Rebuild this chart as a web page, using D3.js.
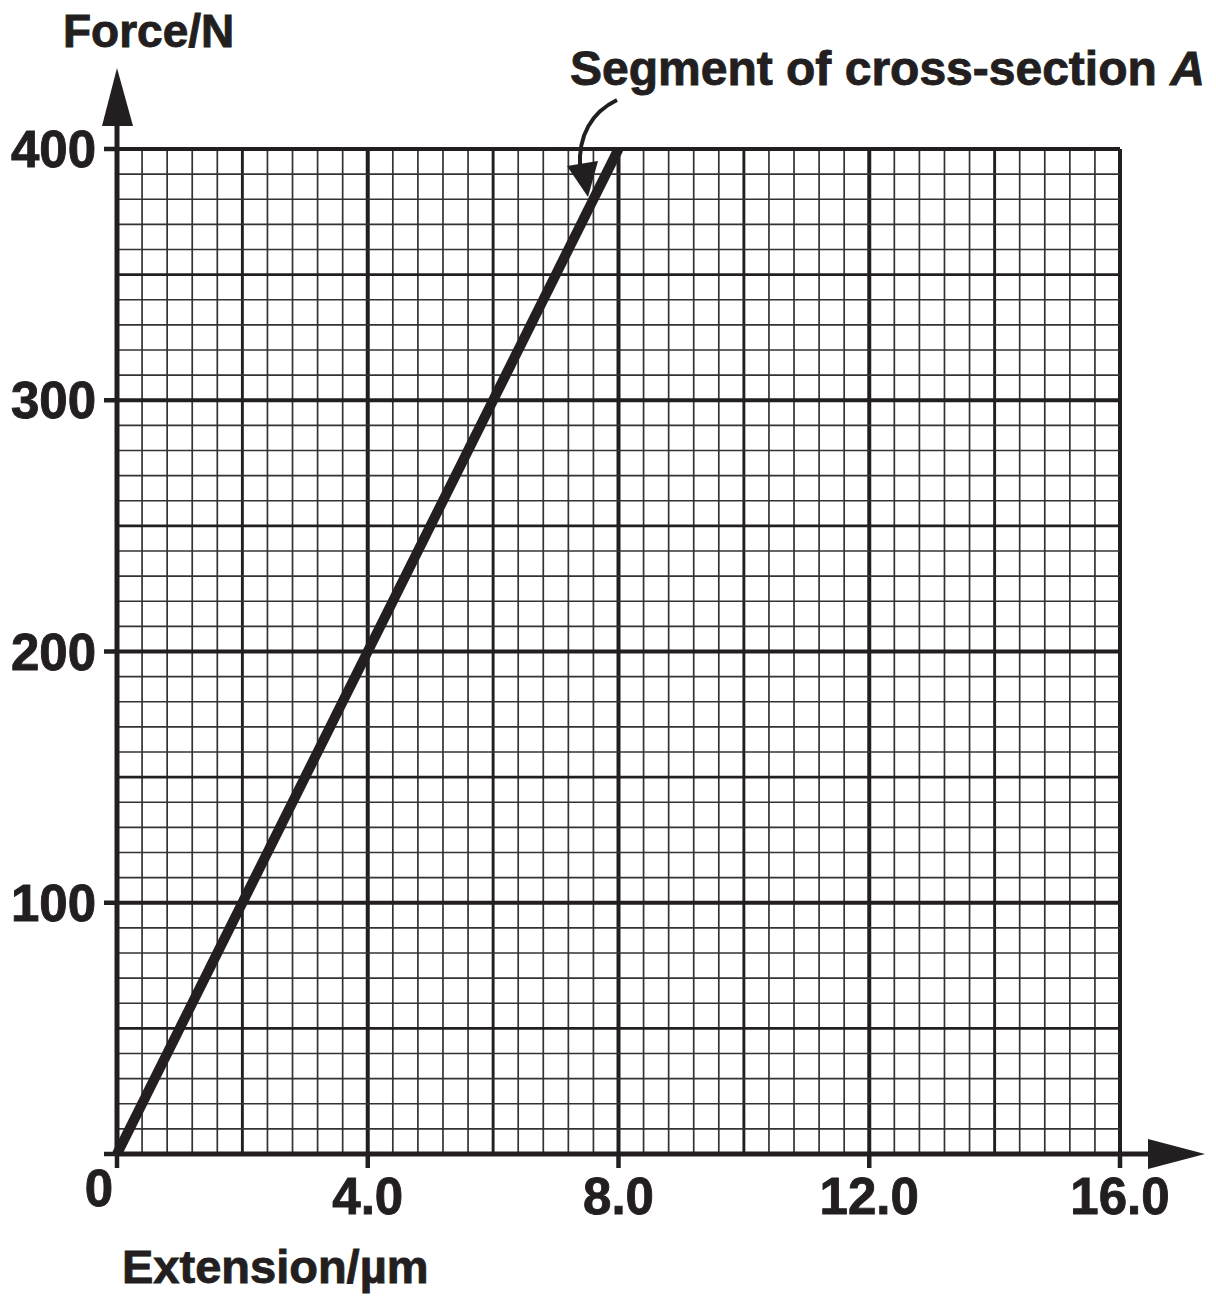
<!DOCTYPE html>
<html>
<head>
<meta charset="utf-8">
<script src="https://cdn.jsdelivr.net/npm/d3@7"></script>
<style>
    body { margin: 0; background: #fff; }
    text { font-family: "Liberation Sans", Arial, Helvetica, sans-serif; font-weight: bold; fill: #231f20; stroke: #231f20; stroke-width: 0.9px; }
</style>
</head>
<body>
<div id="chart"></div>
<script>
// values
const extension = [0, 8.0];      // µm
const force = [0, 400];          // N
const xTicks = [0, 4, 8, 12, 16];
const xTickLabels = ["0", "4.0", "8.0", "12.0", "16.0"];
const yTicks = [0, 100, 200, 300, 400];
const yTickLabels = ["", "100", "200", "300", "400"];

const w = 1216, h = 1303;
const ink = "#231f20";

const x = d3.scaleLinear().domain([0, 16]).range([117, 1120]);
const y = d3.scaleLinear().domain([0, 400]).range([1154, 149]);

const svg = d3.select("#chart").append("svg")
    .attr("width", w)
    .attr("height", h);

// graph paper: minor 0.4 / 10 N, medium 2.0 / 50 N, major 4.0 / 100 N
let grid = svg.append("g").attr("class", "grid");

function lineWidthX(v) {
    let r = Math.round(v * 10);
    if (r % 40 === 0) return 4;
    if (r % 20 === 0) return 2.9;
    return 1.7;
}

function lineWidthY(v) {
    if (v % 100 === 0) return 4;
    if (v % 50 === 0) return 2.9;
    return 1.7;
}

grid.selectAll("line.vx")
    .data(d3.range(0.4, 16.01, 0.4))
    .enter().append("line")
    .attr("class", "vx")
    .attr("x1", d => x(d)).attr("x2", d => x(d))
    .attr("y1", y(0)).attr("y2", y(400))
    .attr("stroke", d => lineWidthX(d) > 2 ? ink : "#333")
    .attr("stroke-width", d => lineWidthX(d));

grid.selectAll("line.hy")
    .data(d3.range(10, 401, 10))
    .enter().append("line")
    .attr("class", "hy")
    .attr("y1", d => y(d)).attr("y2", d => y(d))
    .attr("x1", x(0)).attr("x2", x(16))
    .attr("stroke", d => lineWidthY(d) > 2 ? ink : "#333")
    .attr("stroke-width", d => lineWidthY(d));

// the measured segment
svg.append("path")
    .datum(d3.zip(extension, force))
    .attr("fill", "none")
    .attr("stroke", ink)
    .attr("stroke-width", 10)
    .attr("d", d3.line().x(d => x(d[0])).y(d => y(d[1])));

// axes
let axes = svg.append("g").attr("class", "axes");

axes.append("line")
    .attr("x1", x(0)).attr("x2", 1150)
    .attr("y1", y(0)).attr("y2", y(0))
    .attr("stroke", ink).attr("stroke-width", 5);

axes.append("line")
    .attr("x1", x(0)).attr("x2", x(0))
    .attr("y1", y(0)).attr("y2", 124)
    .attr("stroke", ink).attr("stroke-width", 5);

axes.append("path")
    .attr("d", "M" + 1205 + "," + y(0) + "L1148," + (y(0) - 15) + "L1148," + (y(0) + 15) + "Z")
    .attr("fill", ink);

axes.append("path")
    .attr("d", "M" + x(0) + ",68L" + (x(0) - 15) + ",126L" + (x(0) + 16) + ",126Z")
    .attr("fill", ink);

// tick marks
axes.selectAll("line.xt")
    .data(xTicks)
    .enter().append("line")
    .attr("class", "xt")
    .attr("x1", d => x(d)).attr("x2", d => x(d))
    .attr("y1", y(0)).attr("y2", y(0) + 14)
    .attr("stroke", ink).attr("stroke-width", 4.5);

axes.selectAll("line.yt")
    .data(yTicks)
    .enter().append("line")
    .attr("class", "yt")
    .attr("y1", d => y(d)).attr("y2", d => y(d))
    .attr("x1", x(0) - 13).attr("x2", x(0))
    .attr("stroke", ink).attr("stroke-width", 4.5);

// tick labels
axes.selectAll("text.xl")
    .data(xTicks)
    .enter().append("text")
    .attr("class", "xl")
    .attr("x", (d, i) => i === 0 ? x(d) - 4 : x(d))
    .attr("y", (d, i) => i === 0 ? 1206 : 1214)
    .attr("text-anchor", (d, i) => i === 0 ? "end" : "middle")
    .style("font-size", "51px")
    .text((d, i) => xTickLabels[i]);

axes.selectAll("text.yl")
    .data(yTicks)
    .enter().append("text")
    .attr("class", "yl")
    .attr("x", 96)
    .attr("y", d => y(d) + 18)
    .attr("text-anchor", "end")
    .style("font-size", "51px")
    .text((d, i) => yTickLabels[i]);

// axis titles
svg.append("text")
    .attr("x", 63).attr("y", 47)
    .style("font-size", "46px")
    .text("Force/N");

svg.append("text")
    .attr("x", 122).attr("y", 1283)
    .style("font-size", "47px")
    .text("Extension/\u00b5m");

// annotation
let note = svg.append("text")
    .attr("x", 570).attr("y", 85)
    .style("font-size", "48px");
note.append("tspan").text("Segment of cross-section ");
note.append("tspan").style("font-style", "italic").text("A");

svg.append("path")
    .attr("d", "M617,100 C592,112 578,135 580,168")
    .attr("fill", "none")
    .attr("stroke", ink)
    .attr("stroke-width", 4);

svg.append("path")
    .attr("d", "M588,197 L567,166 L598,161 Z")
    .attr("fill", ink);
</script>
</body>
</html>
